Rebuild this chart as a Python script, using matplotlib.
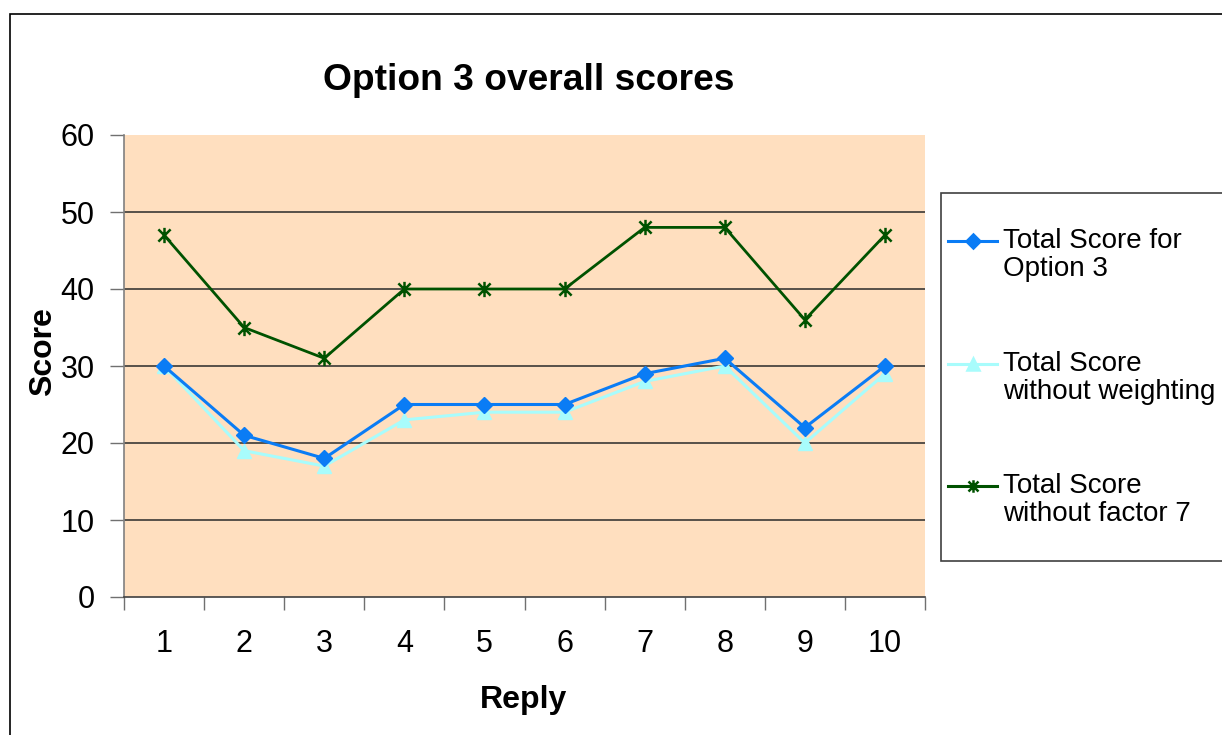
import matplotlib
matplotlib.use("Agg")
import matplotlib.pyplot as plt
from matplotlib.path import Path
from matplotlib.lines import Line2D
from matplotlib.patches import Rectangle
import numpy as np

plt.rcParams['font.family'] = ['Liberation Sans', 'DejaVu Sans']

replies = [1, 2, 3, 4, 5, 6, 7, 8, 9, 10]
score_option3 = [30, 21, 18, 25, 25, 25, 29, 31, 22, 30]
score_no_weight = [30, 19, 17, 23, 24, 24, 28, 30, 20, 29]
score_no_factor7 = [47, 35, 31, 40, 40, 40, 48, 48, 36, 47]
series_labels = ["Total Score for\nOption 3", "Total Score\nwithout weighting", "Total Score\nwithout factor 7"]
title = "Option 3 overall scores"
xlabel = "Reply"
ylabel = "Score"

c_blue = '#0A7CF5'
c_cyan = '#A8FCFC'
c_green = '#005200'
bg = '#FFDFBF'

star = Path([(-1, -1), (1, 1), (-1, 1), (1, -1), (0, -1.25), (0, 1.25)],
            [Path.MOVETO, Path.LINETO, Path.MOVETO, Path.LINETO, Path.MOVETO, Path.LINETO])

W, H = 1222, 735
fig = plt.figure(figsize=(W / 100, H / 100), dpi=100)
ax = fig.add_axes([124 / W, 1 - 597 / H, (925 - 124) / W, (597 - 135) / H])
ax.set_facecolor(bg)

for y in [10, 20, 30, 40, 50]:
    ax.axhline(y, color='#2a2a2a', lw=1.1, zorder=1)

ax.plot(replies, score_no_factor7, color=c_green, lw=2.0, marker=star, ms=11,
        mew=1.8, mec=c_green, zorder=3)
ax.plot(replies, score_no_weight, color=c_cyan, lw=2.2, marker='^', ms=10,
        mec=c_cyan, mfc=c_cyan, zorder=4)
ax.plot(replies, score_option3, color=c_blue, lw=2.2, marker='D', ms=8,
        mec=c_blue, mfc=c_blue, zorder=5)

ax.set_xlim(0.5, 10.5)
ax.set_ylim(0, 60)
ax.set_yticks([0, 10, 20, 30, 40, 50, 60])
ax.set_xticks(np.arange(0.5, 11, 1))
ax.set_xticklabels([])
ax.set_xticks(replies, minor=True)
ax.set_xticklabels([str(r) for r in replies], minor=True)
ax.tick_params(axis='x', which='major', length=9, width=1, color='#707070', direction='out')
ax.tick_params(axis='x', which='minor', length=0, pad=23, labelsize=22)
ax.tick_params(axis='y', length=10, width=1, color='#707070', direction='out', pad=11, labelsize=22)

for s in ['top', 'right']:
    ax.spines[s].set_visible(False)
ax.spines['left'].set_color('#808080')
ax.spines['bottom'].set_color('#404040')
ax.spines['left'].set_linewidth(1.2)
ax.spines['bottom'].set_linewidth(1.2)

fig.text(529 / W, 1 - 81 / H, title, ha='center', va='center', fontsize=26.7, fontweight='bold')
fig.text(524 / W, 1 - 700 / H, xlabel, ha='center', va='center', fontsize=23, fontweight='bold')
fig.text(43 / W, 1 - 352 / H, ylabel, ha='center', va='center', fontsize=23, fontweight='bold', rotation=90)

# figure border
fig.patches.append(Rectangle((9.5 / W, -0.05), 1.2, 1 - 13.5 / H + 0.05, transform=fig.transFigure,
                             fill=False, ec='black', lw=1.2, zorder=0))

# legend
fig.patches.append(Rectangle((941 / W, 1 - 561 / H), 0.5, (561 - 193) / H, transform=fig.transFigure,
                             fill=True, fc='white', ec='#404040', lw=1.2, zorder=2))
entries = [
    (c_blue, 'D', 7, c_blue, 241),
    (c_cyan, '^', 9, c_cyan, 364),
    (c_green, star, 9, c_green, 486),
]
for (col, mk, ms, mc, ypix), lab in zip(entries, series_labels):
    yy = 1 - ypix / H
    fig.add_artist(Line2D([948 / W, 997 / W], [yy, yy], transform=fig.transFigure, color=col, lw=2.2,
                          zorder=3))
    fig.add_artist(Line2D([972.5 / W], [yy], transform=fig.transFigure, color=col, marker=mk, ms=ms,
                          mfc=mc, mec=mc, mew=1.8, zorder=4))
    fig.text(1003 / W, yy + 13 / H, lab, ha='left', va='top', fontsize=20, linespacing=1.1, zorder=5)

fig.savefig('out.png', dpi=100)
